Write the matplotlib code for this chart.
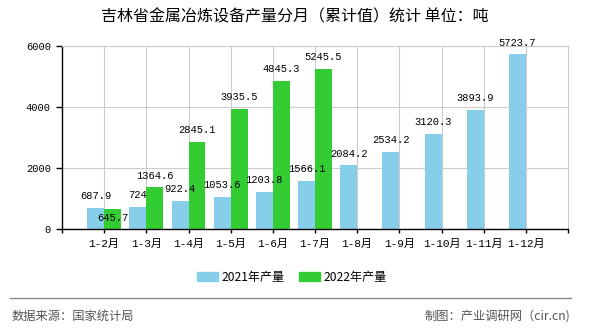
import numpy as np
import matplotlib
matplotlib.use("Agg")
import matplotlib.pyplot as plt
from matplotlib.patches import Patch

plt.rcParams['font.family'] = ['Noto Sans CJK SC', 'DejaVu Sans']

# données (tonnes, cumul)
months = ["1-2月", "1-3月", "1-4月", "1-5月", "1-6月", "1-7月",
          "1-8月", "1-9月", "1-10月", "1-11月", "1-12月"]
prod_2021 = [687.9, 724, 922.4, 1053.6, 1203.8, 1566.1,
             2084.2, 2534.2, 3120.3, 3893.9, 5723.7]
prod_2022 = [645.7, 1364.6, 2845.1, 3935.5, 4845.3, 5245.5]
labels_2021 = ["687.9", "724", "922.4", "1053.6", "1203.8", "1566.1",
               "2084.2", "2534.2", "3120.3", "3893.9", "5723.7"]
labels_2022 = ["645.7", "1364.6", "2845.1", "3935.5", "4845.3", "5245.5"]

c21 = "#87ceeb"
c22 = "#33cc33"
mono = ['Liberation Mono', 'Noto Sans CJK SC']

fig = plt.figure(figsize=(5.9, 3.3), dpi=100)
ax = fig.add_axes([62/590, 1-229/330, 506/590, 183/330])

x21 = np.arange(1, len(prod_2021) + 1)
x22 = np.arange(1, len(prod_2022) + 1)
w = 0.4
ax.bar(x21 - w/2, prod_2021, width=w, color=c21, zorder=2)
ax.bar(x22 + w/2, prod_2022, width=w, color=c22, zorder=2)

# étiquettes de valeurs
for x, v, s in zip(x21, prod_2021, labels_2021):
    ax.annotate(s, (x - w/2, v), xytext=(0, 8.5), textcoords="offset points",
                ha="center", va="center", fontsize=7.5, family=mono, zorder=4)
for x, v, s, v21 in zip(x22, prod_2022, labels_2022, prod_2021):
    dy = -6.5 if abs(v - v21) < 300 else 8.5   # évite le chevauchement
    ax.annotate(s, (x + w/2, v), xytext=(0, dy), textcoords="offset points",
                ha="center", va="center", fontsize=7.5, family=mono, zorder=4)

ax.set_xlim(0, 12)
ax.set_ylim(0, 6000)
ax.set_yticks([0, 2000, 4000, 6000])
ax.set_yticklabels(["0", "2000", "4000", "6000"], family=mono, fontsize=7.5)
ax.set_xticks(x21)
ax.set_xticklabels(months, family=mono, fontsize=8)
ax.set_xticks([0, 12], minor=True)
ax.tick_params(axis="x", which="both", length=3, width=1, pad=4)
ax.tick_params(axis="y", length=4, width=1, pad=4)

ax.grid(True, color="#cccccc", lw=0.8, zorder=0)
for sp in ("top", "right"):
    ax.spines[sp].set_color("#cccccc")
    ax.spines[sp].set_linewidth(0.8)
ax.spines["left"].set_linewidth(1)
ax.spines["bottom"].set_linewidth(1)

fig.text(295/590, 1-17/330, "吉林省金属冶炼设备产量分月（累计值）统计 单位：吨",
         ha="center", va="center", fontsize=11.5, fontweight="medium")

handles = [Patch(color=c21, label="2021年产量"), Patch(color=c22, label="2022年产量")]
fig.legend(handles=handles, loc="center", bbox_to_anchor=(292/590, 1-277/330),
           ncol=2, frameon=False, fontsize=8.7, handlelength=1.7, handleheight=0.75,
           handletextpad=0.3, columnspacing=1.2)

fig.add_artist(plt.Line2D([10/590, 571/590], [1-298/330, 1-298/330],
                          transform=fig.transFigure, color="#888888", lw=1))
fig.text(12/590, 1-316/330, "数据来源：国家统计局", ha="left", va="center",
         fontsize=8.8, color="#555555")
fig.text(570/590, 1-316/330, "制图：产业调研网（cir.cn)", ha="right", va="center",
         fontsize=8.8, color="#555555")

fig.savefig("out.png", dpi=100)
